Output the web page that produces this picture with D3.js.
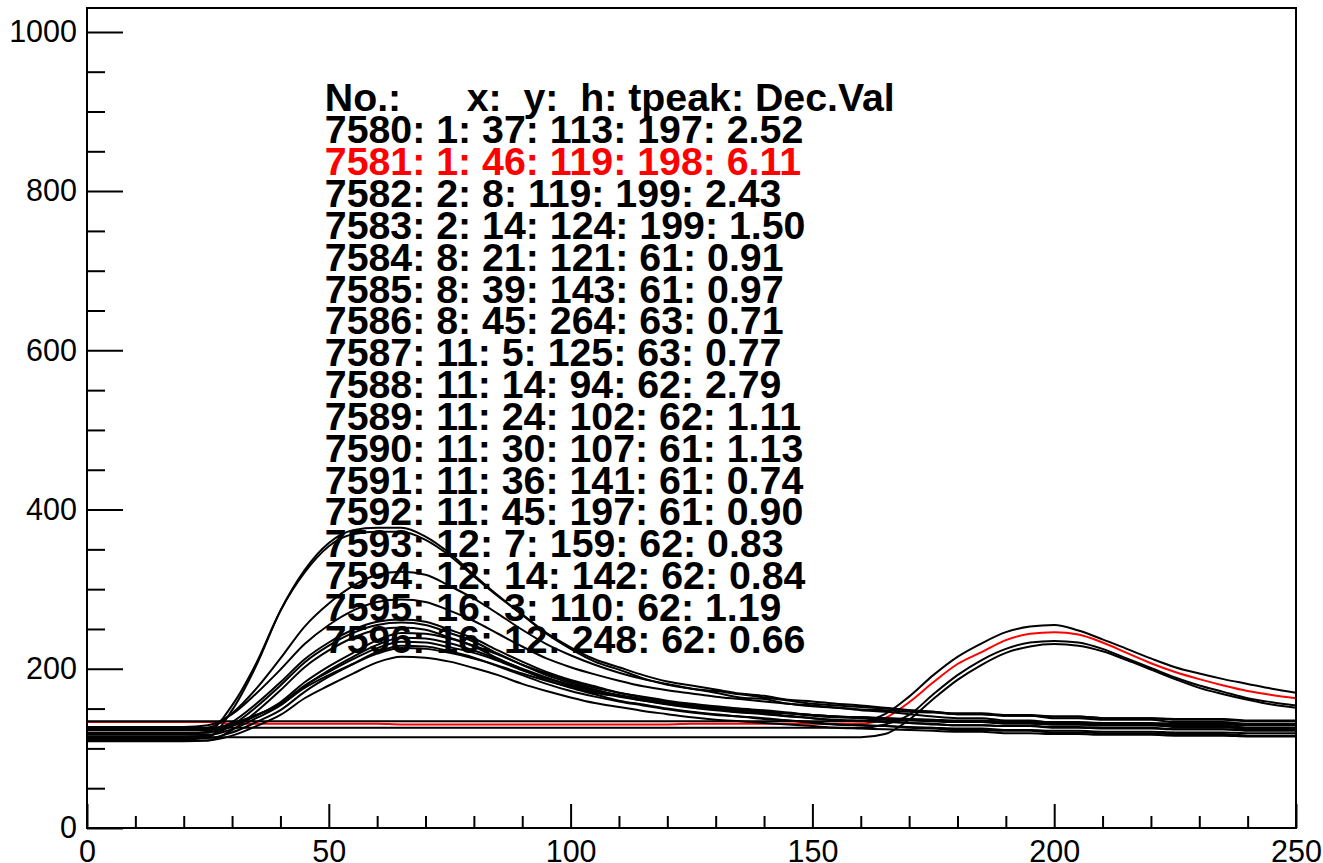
<!DOCTYPE html>
<html>
<head>
<meta charset="utf-8">
<script src="https://cdn.jsdelivr.net/npm/d3@7"></script>
<style>
  body { margin: 0; background: #fff; }
  svg { display: block; }
</style>
</head>
<body>
<svg id="chart"></svg>
<script>
// sample positions (time bins) for every waveform
const samples = [0,5,10,15,20,25,30,35,40,45,50,55,60,65,70,75,80,85,90,95,100,
  105,110,115,120,125,130,135,140,145,150,155,160,165,170,175,180,185,190,195,200,
  205,210,215,220,225,230,235,240,245,250];

// waveforms, one per channel
const w7580 = [126,126,126,126,126,126,126,126,126,126,126,126,126,126,126,126,126,126,126,126,126,
  126,126,126,126,126,126,126,126,126,126,126,126,130,142,168,192,211,225,233,235,233,225,213,201,189,179,171,163,158,154];
const w7581 = [133,133,133,133,133,133,131,131,131,131,131,131,131,130,130,130,130,130,130,130,130,
  130,130,130,130,131,131,131,131,131,131,131,131,138,158,183,206,221,236,244,246,243,233,220,207,196,187,179,172,167,163];
const w7582 = [114,114,114,114,114,114,114,114,114,114,114,114,114,114,114,114,114,114,114,114,114,
  114,114,114,114,114,114,114,114,114,114,114,114,118,136,162,186,205,220,228,231,229,222,211,199,187,176,168,161,155,151];
const w7583 = [134,134,134,134,134,134,134,134,134,134,134,134,134,134,134,134,134,134,134,134,134,
  134,134,134,134,134,134,134,134,134,134,134,134,143,165,192,215,232,246,253,255,248,237,225,213,202,194,187,181,175,170];
const w7584 = [117,117,117,117,117,117,124,138,154,178,198,215,230,239,238,232,223,212,200,189,
  179,172,166,160,155,151,148,145,143,140,138,135,134,133,132,130,129,129,128,128,127,127,126,126,126,124,124,124,123,123,123];
const w7585 = [119,119,119,119,119,120,133,156,183,212,233,249,259,262,259,249,238,223,209,196,
  186,178,170,165,160,156,153,150,148,145,142,140,139,138,136,135,133,133,132,132,130,130,129,129,129,128,128,128,126,126,126];
const w7586 = [111,111,111,111,111,114,148,204,273,324,358,374,377,377,366,345,318,292,268,244,
  225,209,199,188,180,175,170,164,162,156,154,151,148,146,143,140,138,138,135,135,132,132,130,130,130,127,127,127,124,124,124];
const w7587 = [120,120,120,120,120,120,128,141,158,183,203,220,236,245,244,238,229,218,205,194,
  184,176,170,164,159,155,151,149,146,144,141,139,138,136,135,134,133,133,131,131,130,130,129,129,129,128,128,128,126,126,126];
const w7588 = [110,110,110,110,110,110,116,128,142,163,179,194,208,215,214,209,201,192,181,172,
  164,157,152,147,143,139,136,134,132,130,128,126,125,124,123,122,121,121,119,119,118,118,117,117,117,116,116,116,115,115,115];
const w7589 = [125,125,125,125,125,125,131,142,155,176,192,206,219,226,225,220,213,204,194,185,
  177,170,165,160,156,153,150,148,146,144,142,140,139,138,137,136,135,135,134,134,133,133,132,132,132,131,131,131,130,130,130];
const w7590 = [113,113,113,113,113,113,120,133,148,171,190,206,221,229,228,222,214,203,192,181,
  172,165,159,154,149,145,142,140,137,135,133,130,129,128,127,126,125,125,123,123,122,122,121,121,121,120,120,120,119,119,119];
const w7591 = [109,109,109,109,109,110,123,146,173,202,223,239,249,252,249,239,228,213,199,186,
  176,168,160,155,150,146,143,140,138,135,132,130,129,128,126,125,123,123,122,122,120,120,119,119,119,118,118,118,116,116,116];
const w7592 = [124,124,124,124,124,126,144,175,213,253,282,304,318,322,318,304,288,269,249,231,
  217,205,195,187,181,175,172,168,164,160,156,154,152,150,148,146,144,144,142,142,140,140,138,138,138,136,136,136,134,134,134];
const w7593 = [127,127,127,127,127,129,143,169,199,231,255,273,284,287,284,273,260,244,228,213,
  202,193,185,178,173,169,165,162,159,156,153,151,149,148,146,145,143,143,141,141,140,140,138,138,138,137,137,137,135,135,135];
const w7594 = [115,115,115,115,115,116,129,152,179,208,229,245,255,258,255,245,234,219,205,192,
  182,174,166,161,156,152,149,146,144,141,138,136,135,134,132,131,129,129,128,128,126,126,125,125,125,124,124,124,122,122,122];
const w7595 = [123,123,123,123,123,123,130,142,156,179,196,212,226,234,233,227,220,210,198,188,
  180,173,167,162,157,154,151,149,146,144,142,140,139,137,136,135,134,134,133,133,132,132,131,131,131,130,130,130,129,129,129];
const w7596 = [118,118,118,118,118,121,154,207,273,321,354,369,372,372,362,342,316,291,268,245,
  227,212,202,192,184,179,174,169,166,161,159,156,154,151,148,146,143,143,141,141,138,138,136,136,136,133,133,133,131,131,131];

// table printed on the plot
const ids = [7580,7581,7582,7583,7584,7585,7586,7587,7588,7589,7590,7591,7592,7593,7594,7595,7596];
const xs = [1,1,2,2,8,8,8,11,11,11,11,11,11,12,12,16,16];
const ys = [37,46,8,14,21,39,45,5,14,24,30,36,45,7,14,3,12];
const hs = [113,119,119,124,121,143,264,125,94,102,107,141,197,159,142,110,248];
const tpeaks = [197,198,199,199,61,61,63,63,62,62,61,61,61,62,62,62,62];
const decVals = ["2.52","6.11","2.43","1.50","0.91","0.97","0.71","0.77","2.79","1.11","1.13","0.74","0.90","0.83","0.84","1.19","0.66"];
const header = "No.:      x:  y:  h: tpeak: Dec.Val";
const highlightId = 7581;

const xMajor = [0,50,100,150,200,250];
const xMinor = [10,20,30,40,60,70,80,90,110,120,130,140,160,170,180,190,210,220,230,240];
const yMajor = [0,200,400,600,800,1000];
const yMinor = [50,100,150,250,300,350,450,500,550,650,700,750,850,900,950];

const waves = [w7580,w7581,w7582,w7583,w7584,w7585,w7586,w7587,w7588,
               w7589,w7590,w7591,w7592,w7593,w7594,w7595,w7596];

const width = 1323, height = 863;
const margin = {top: 8, right: 27, bottom: 35, left: 87};
const svg = d3.select('#chart').attr('width', width).attr('height', height);

const x = d3.scaleLinear().domain([0, 250]).range([margin.left, width - margin.right]);
const y = d3.scaleLinear().domain([0, 1030]).range([height - margin.bottom, margin.top]);

const font = "'Liberation Sans', Arial, Helvetica, sans-serif";

svg.append("clipPath").attr("id", "frameClip")
    .append("rect")
    .attr("x", x(0)).attr("y", y(1030))
    .attr("width", x(250) - x(0)).attr("height", y(0) - y(1030));

// waveforms
const line = d3.line()
    .x((d, i) => x(samples[i]))
    .y(d => y(d))
    .curve(d3.curveMonotoneX);

svg.append("g")
    .attr("clip-path", "url(#frameClip)")
    .attr("fill", "none")
    .attr("stroke-width", 2)
    .attr("stroke-linejoin", "round")
    .selectAll("path")
    .data(waves)
    .join("path")
    .attr("stroke", (d, i) => ids[i] === highlightId ? "#ff0000" : "#000")
    .attr("d", line);

// axes, ROOT style: ticks pointing into the frame
const styleAxis = g => {
    g.select(".domain").remove();
    g.selectAll(".tick line").attr("stroke", "#000").attr("stroke-width", 2);
    g.selectAll("text").attr("font-family", font).attr("font-size", 30.5).attr("fill", "#000");
};

svg.append("g")
    .attr("transform", `translate(${margin.left},0)`)
    .call(d3.axisLeft(y).tickValues(yMajor).tickSize(-36).tickPadding(10).tickFormat(d3.format("d")))
    .call(styleAxis);
svg.append("g")
    .attr("transform", `translate(${margin.left},0)`)
    .call(d3.axisLeft(y).tickValues(yMinor).tickSize(-18).tickFormat(""))
    .call(styleAxis);

svg.append("g")
    .attr("transform", `translate(0,${height - margin.bottom})`)
    .call(d3.axisBottom(x).tickValues(xMajor).tickSize(-24).tickPadding(12).tickFormat(d3.format("d")))
    .call(styleAxis);
svg.append("g")
    .attr("transform", `translate(0,${height - margin.bottom})`)
    .call(d3.axisBottom(x).tickValues(xMinor).tickSize(-12).tickFormat(""))
    .call(styleAxis);

// frame
svg.append("rect")
    .attr("x", x(0)).attr("y", y(1030))
    .attr("width", x(250) - x(0)).attr("height", y(0) - y(1030))
    .attr("fill", "none")
    .attr("stroke", "#000")
    .attr("stroke-width", 2);

// text table
const rows = [header].concat(ids.map((id, i) =>
    `${id}: ${xs[i]}: ${ys[i]}: ${hs[i]}: ${tpeaks[i]}: ${decVals[i]}`));

svg.append("g")
    .attr("font-family", font)
    .attr("font-weight", "bold")
    .attr("font-size", 39.3)
    .selectAll("text")
    .data(rows)
    .join("text")
    .attr("x", x(50) - 4)
    .attr("y", (d, i) => y(900 - 40 * i))
    .style("white-space", "pre")
    .attr("fill", (d, i) => i > 0 && ids[i - 1] === highlightId ? "#ff0000" : "#000")
    .text(d => d);
</script>
</body>
</html>
